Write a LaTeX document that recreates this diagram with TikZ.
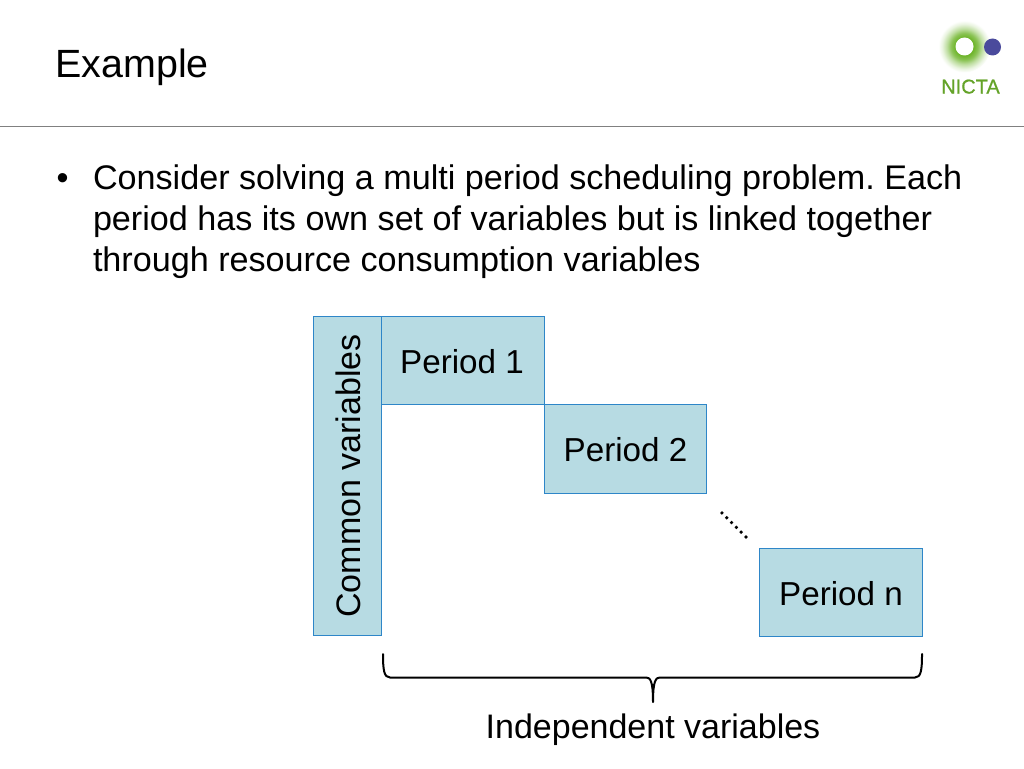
\documentclass[tikz,border=0pt]{standalone}
\usepackage{fontspec}
\setmainfont{Liberation Sans}
\newfontfamily\logofont[FakeBold=0.7]{Liberation Sans}
\definecolor{boxfill}{HTML}{B7DBE3}
\definecolor{boxline}{HTML}{2E86C8}
\definecolor{rulegray}{HTML}{808080}
\definecolor{nictagreen}{HTML}{6FB52C}
\definecolor{nictablue}{HTML}{4A4A9C}
\pgfdeclareradialshading{nictaglow}{\pgfpointorigin}{
  color(0bp)=(nictagreen);
  color(9bp)=(nictagreen);
  color(13bp)=(nictagreen!80);
  color(17bp)=(nictagreen!45);
  color(21.5bp)=(nictagreen!15);
  color(25bp)=(white);
  color(50bp)=(white)}
\tikzset{
  periodbox/.style={draw=boxline,fill=boxfill,line width=0.9pt,minimum width=162.5pt,minimum height=88.5pt,inner sep=0pt,text=black},
  periodlabel/.style={plaintext,font=\fontsize{33.2}{38}\selectfont},
  commonbox/.style={draw=boxline,fill=boxfill,line width=0.9pt,minimum width=68pt,minimum height=319.5pt,inner sep=0pt},
  plaintext/.style={inner sep=0pt,outer sep=0pt,text=black},
  bracepath/.style={draw=black,line width=2pt,line cap=round,line join=round},
  bodytext/.style={plaintext,anchor=base west,font=\frenchspacing\fontsize{34.15}{41}\selectfont},
}
\begin{document}
\begin{tikzpicture}[x=1pt,y=-1pt]
\useasboundingbox (0,0) rectangle (1024,768);
\fill[white] (0,0) rectangle (1024,768);
% title
\node[plaintext,anchor=base west,font=\fontsize{39.4}{44}\selectfont] (title) at (55.5,77.5) {Example};
\coordinate (ruleL) at (0,126.5);
\coordinate (ruleR) at (1024,126.5);
\draw[rulegray,line width=1.1pt] (ruleL) -- (ruleR);
% logo
\shade[shading=nictaglow] (964.5,46.5) circle (26);
\fill[white] (964.5,46.5) circle (9);
\fill[nictablue] (992.5,47) circle (8.5);
\node[plaintext,anchor=base,font=\logofont\fontsize{20}{22}\selectfont,text=nictagreen!90!black] (logo) at (970.5,93.5) {NICTA};
% bullet text
\node[bodytext] (bullet) at (56.5,189.5) {•};
\node[bodytext] (line1) at (93,189.5) {Consider solving a multi period scheduling problem. Each};
\node[bodytext] (line2) at (93,230.5) {period has its own set of variables but is linked together};
\node[bodytext] (line3) at (93,271.5) {through resource consumption variables};
% boxes
\node[commonbox] (common) at (347.5,475.75) {};
\node[plaintext,rotate=90,font=\fontsize{34}{38}\selectfont] (commonlabel) at (348.5,476) {Common variables};
\node[periodbox] (p1) at (463,360.5) {};
\node[periodbox] (p2) at (625.25,449) {};
\node[periodbox] (pn) at (841,592.5) {};
\node[periodlabel] (p1label) at (462,361.5) {Period 1};
\node[periodlabel] (p2label) at (625.5,450) {Period 2};
\node[periodlabel] (pnlabel) at (841,593.5) {Period n};
% dots
\coordinate (dotA) at (721,512);
\coordinate (dotB) at (747,538);
\draw[black,line width=2.6pt,dash pattern=on 2.6pt off 4.2pt] (dotA) -- (dotB);
% brace
\coordinate (braceL) at (383,654);
\coordinate (braceR) at (922,654);
\coordinate (braceM) at (653,702);
\draw[bracepath] (braceL) .. controls (383,670) and (384,677.5) .. (390,677.5)
  -- (646,677.5) .. controls (650,677.5) and (653,680) .. (braceM)
  .. controls (653,680) and (656,677.5) .. (660,677.5)
  -- (915,677.5) .. controls (921,677.5) and (922,670) .. (braceR);
\node[plaintext,anchor=base,font=\fontsize{34}{38}\selectfont] (indep) at (653,738.5) {Independent variables};
\end{tikzpicture}
\end{document}
